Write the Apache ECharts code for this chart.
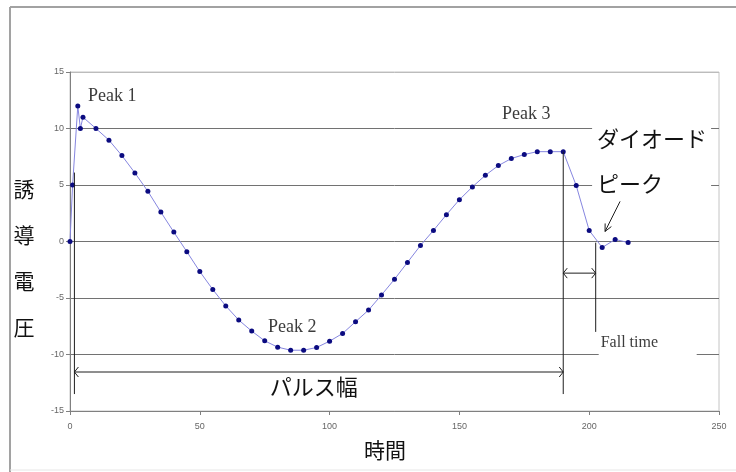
<!DOCTYPE html>
<html>
<head>
<meta charset="utf-8">
<script src="https://cdn.jsdelivr.net/npm/echarts@6/dist/echarts.min.js"></script>
<style>
  html, body { margin: 0; padding: 0; background: #fff; }
  #chart { width: 736px; height: 472px; }
</style>
</head>
<body>
<div id="chart"></div>
<script>
// Sampled pulse: time vs induced voltage
const times = [0, 1, 3, 4, 5, 10, 15, 20, 25, 30, 35, 40, 45, 50, 55, 60, 65, 70, 75, 80,
  85, 90, 95, 100, 105, 110, 115, 120, 125, 130, 135, 140, 145, 150, 155, 160, 165, 170,
  175, 180, 185, 190, 195, 200, 205, 210, 215];
const voltage = [0, 5, 12, 10, 11, 10, 8.97, 7.6, 6.07, 4.44, 2.6, 0.83, -0.9, -2.66, -4.25,
  -5.7, -6.95, -7.93, -8.79, -9.35, -9.62, -9.62, -9.38, -8.82, -8.14, -7.1, -6.07, -4.73,
  -3.34, -1.85, -0.35, 0.98, 2.37, 3.7, 4.83, 5.86, 6.72, 7.34, 7.7, 7.95, 7.95, 7.95,
  4.95, 0.98, -0.53, 0.18, -0.09];

// Axis ranges
const xRange = [0, 250, 50];
const yRange = [-15, 15, 5];

// Annotation anchors in data coordinates [time, voltage]
const peakNotes = [['Peak 1', 6.9, 12.85], ['Peak 2', 76.3, -7.6], ['Peak 3', 166.4, 11.25]];
const pulseStart = 1.7, pulseEnd = 190, pulseArrowV = -11.55;
const pulseLeftTop = 6.1, pulseRightTop = 7.95, pulseBottom = -13.5;
const fallEnd = 202.5, fallTop = -0.1, fallBottom = -8.0, fallArrowV = -2.8;
const calloutFrom = [211.9, 3.55], calloutTo = [206.1, 0.89];

const data = times.map((t, i) => [t, voltage[i]]);
const chart = echarts.init(document.getElementById('chart'), null, { renderer: 'canvas' });

chart.setOption({
  animation: false,
  backgroundColor: '#fff',
  grid: { left: 70, right: 17, top: 72, bottom: 61, show: true, borderColor: '#c4c4c4', borderWidth: 1 },
  xAxis: {
    type: 'value', min: xRange[0], max: xRange[1], interval: xRange[2],
    axisLine: { show: true, onZero: false, lineStyle: { color: '#808080', width: 1 } },
    axisTick: { show: true, length: 4, lineStyle: { color: '#808080' } },
    axisLabel: { fontSize: 9, color: '#666', margin: 11, fontFamily: 'Liberation Sans' },
    splitLine: { show: false }
  },
  yAxis: {
    type: 'value', min: yRange[0], max: yRange[1], interval: yRange[2],
    axisLine: { show: true, onZero: false, lineStyle: { color: '#808080', width: 1 } },
    axisTick: { show: true, length: 4, lineStyle: { color: '#808080' } },
    axisLabel: { fontSize: 9, color: '#666', margin: 6, fontFamily: 'Liberation Sans' },
    splitLine: { show: true, lineStyle: { color: ['#727272', '#727272', '#727272', '#727272', '#727272', '#727272', '#bcbcbc'], width: 1 } }
  },
  series: [{
    type: 'line',
    data: data,
    symbol: 'circle',
    symbolSize: 5,
    lineStyle: { color: '#8686e0', width: 1 },
    itemStyle: { color: '#0b0b80' },
    z: 3
  }]
});

const px = (t, v) => chart.convertToPixel({ gridIndex: 0 }, [t, v]);
const ink = '#1e1e1e';
const g = [];

function seg(a, b, z) {
  g.push({ type: 'line', z: z || 10, shape: { x1: a[0], y1: a[1], x2: b[0], y2: b[1] },
    style: { stroke: ink, lineWidth: 1 } });
}
function head(p, dir) {
  // open chevron pointing in dir (-1 left, +1 right)
  g.push({ type: 'polyline', z: 10, shape: { points: [[p[0] - dir * 4, p[1] - 5], [p[0], p[1]], [p[0] - dir * 4, p[1] + 5]] },
    style: { stroke: ink, lineWidth: 1, fill: null } });
}

// Outer frame
g.push({ type: 'line', z: 1, shape: { x1: 10, y1: 7, x2: 736, y2: 7 }, style: { stroke: '#a2a2a2', lineWidth: 2 } });
g.push({ type: 'line', z: 1, shape: { x1: 10, y1: 7, x2: 10, y2: 472 }, style: { stroke: '#a2a2a2', lineWidth: 2 } });
g.push({ type: 'line', z: 1, shape: { x1: 10, y1: 470, x2: 736, y2: 470 }, style: { stroke: '#e6e6e6', lineWidth: 1 } });

// Pulse width
seg(px(pulseStart, pulseLeftTop), px(pulseStart, pulseBottom));
seg(px(pulseEnd, pulseRightTop), px(pulseEnd, pulseBottom));
const pa = px(pulseStart, pulseArrowV), pb = px(pulseEnd, pulseArrowV);
seg(pa, pb); head(pa, -1); head(pb, 1);

// Fall time
seg(px(fallEnd, fallTop), px(fallEnd, fallBottom));
const fa = px(pulseEnd, fallArrowV), fb = px(fallEnd, fallArrowV);
seg(fa, fb); head(fa, -1); head(fb, 1);

// Callout arrow
const c0 = px(calloutFrom[0], calloutFrom[1]), c1 = px(calloutTo[0], calloutTo[1]);
seg(c0, c1);
const ang = Math.atan2(c1[1] - c0[1], c1[0] - c0[0]);
[0.45, -0.45].forEach(d => {
  g.push({ type: 'line', z: 10, shape: { x1: c1[0], y1: c1[1],
    x2: c1[0] - 8 * Math.cos(ang + d), y2: c1[1] - 8 * Math.sin(ang + d) },
    style: { stroke: ink, lineWidth: 1 } });
});

// Peak labels
peakNotes.forEach(([txt, t, v]) => {
  const p = px(t, v);
  g.push({ type: 'text', z: 12, x: p[0], y: p[1],
    style: { text: txt, fontFamily: 'Liberation Serif', fontSize: 18, fill: '#3c3c3c', align: 'left', verticalAlign: 'middle' } });
});

// Diode peak label box
const dp = px(calloutFrom[0], calloutFrom[1]);
g.push({ type: 'rect', z: 11, shape: { x: dp[0] - 28, y: dp[1] - 86, width: 119, height: 80 }, style: { fill: '#fff' } });
g.push({ type: 'text', z: 12, x: dp[0] - 23, y: dp[1] - 63,
  style: { text: 'ダイオード', fontFamily: 'Noto Sans CJK JP', fontSize: 22, fill: '#111', align: 'left', verticalAlign: 'middle' } });
g.push({ type: 'text', z: 12, x: dp[0] - 23, y: dp[1] - 18,
  style: { text: 'ピーク', fontFamily: 'Noto Sans CJK JP', fontSize: 22, fill: '#111', align: 'left', verticalAlign: 'middle' } });

// Fall time label box
const ft = px(fallEnd, fallBottom);
g.push({ type: 'rect', z: 11, shape: { x: ft[0] + 3, y: ft[1] + 1, width: 98, height: 27 }, style: { fill: '#fff' } });
g.push({ type: 'text', z: 12, x: ft[0] + 5, y: ft[1] + 11,
  style: { text: 'Fall time', fontFamily: 'Liberation Serif', fontSize: 16, fill: '#3c3c3c', align: 'left', verticalAlign: 'middle' } });

// Pulse width label
const pw = px((pulseStart + pulseEnd) / 2, pulseArrowV);
g.push({ type: 'text', z: 12, x: pw[0] - 5, y: pw[1] + 15,
  style: { text: 'パルス幅', fontFamily: 'Noto Sans CJK JP', fontSize: 22, fill: '#111', align: 'center', verticalAlign: 'middle' } });

// Axis titles
g.push({ type: 'text', z: 12, x: 24, y: 258,
  style: { text: '誘\n導\n電\n圧', fontFamily: 'Noto Sans CJK JP', fontSize: 21, lineHeight: 46, fill: '#111', align: 'center', verticalAlign: 'middle' } });
g.push({ type: 'text', z: 12, x: 385, y: 450,
  style: { text: '時間', fontFamily: 'Noto Sans CJK JP', fontSize: 21, fill: '#111', align: 'center', verticalAlign: 'middle' } });

chart.setOption({ graphic: g });
</script>
</body>
</html>
